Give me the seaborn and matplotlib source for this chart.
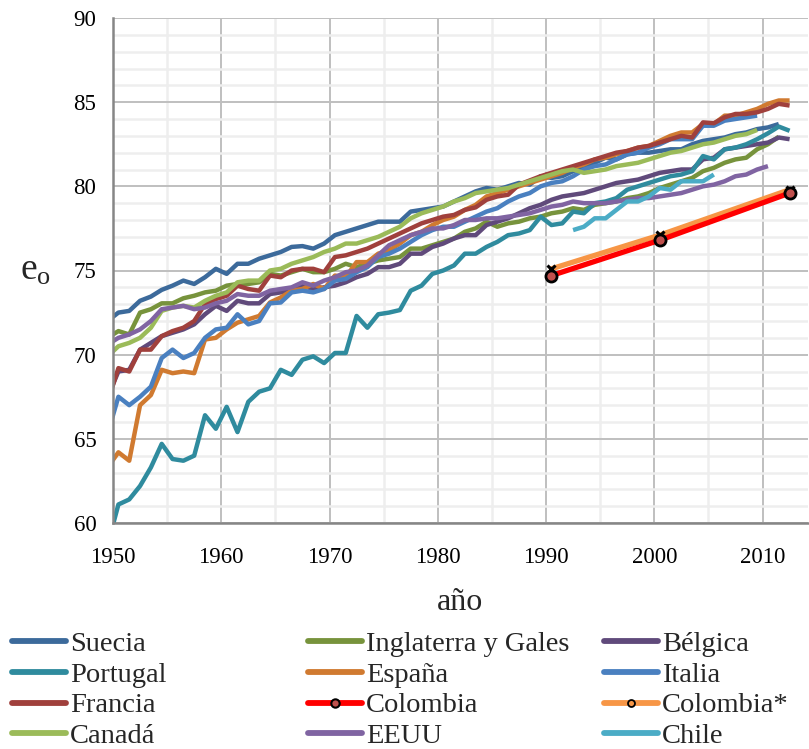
import numpy as np
import pandas as pd
import matplotlib
matplotlib.use("Agg")
import matplotlib.pyplot as plt
import seaborn as sns
from matplotlib.lines import Line2D
from matplotlib.ticker import MultipleLocator

# ---------------- data (female life expectancy at birth, e0) ----------------
# annual series start in 1949 and are drawn at mid-year (year + 0.5)
suecia = [72.0, 72.5, 72.6, 73.2, 73.45, 73.85, 74.1, 74.4, 74.2, 74.6, 75.1, 74.8, 75.4, 75.4, 75.7,
          75.9, 76.1, 76.4, 76.45, 76.3, 76.6, 77.1, 77.3, 77.5, 77.7, 77.9, 77.9, 77.9, 78.5, 78.6,
          78.7, 78.8, 79.1, 79.4, 79.7, 79.9, 79.8, 80.0, 80.2, 80.1, 80.6, 80.5, 80.6, 80.9, 81.1,
          81.4, 81.7, 81.6, 81.9, 82.0, 82.0, 82.1, 82.2, 82.2, 82.5, 82.7, 82.8, 82.9, 83.1, 83.2,
          83.4, 83.5, 83.7]
inglaterra = [71.0, 71.4, 71.2, 72.5, 72.7, 73.05, 73.05, 73.35, 73.5, 73.7, 73.8, 74.1, 74.2, 74.2, 74.3,
              74.8, 74.7, 74.9, 75.1, 74.9, 74.9, 75.1, 75.4, 75.2, 75.4, 75.6, 75.7, 75.8, 76.3, 76.3,
              76.5, 76.7, 76.9, 77.3, 77.5, 77.9, 77.6, 77.8, 77.9, 78.1, 78.2, 78.4, 78.5, 78.7, 78.6,
              78.9, 79.0, 79.1, 79.3, 79.4, 79.6, 79.9, 80.1, 80.3, 80.5, 80.9, 81.1, 81.4, 81.6, 81.7,
              82.2, 82.5, 82.95]
belgica = [67.5, 69.0, 69.1, 70.3, 70.7, 71.1, 71.3, 71.5, 71.8, 72.4, 72.9, 72.6, 73.2, 73.05, 73.05,
           73.6, 73.7, 73.8, 74.1, 73.9, 74.0, 74.1, 74.3, 74.6, 74.8, 75.2, 75.2, 75.4, 76.0, 76.0,
           76.4, 76.6, 76.9, 77.1, 77.1, 77.7, 77.9, 78.1, 78.4, 78.7, 78.9, 79.2, 79.4, 79.5, 79.6,
           79.8, 80.0, 80.2, 80.3, 80.4, 80.6, 80.8, 80.9, 81.0, 81.0, 81.6, 81.7, 82.2, 82.3, 82.4,
           82.5, 82.6, 82.9, 82.8]
portugal = [58.7, 61.1, 61.4, 62.2, 63.3, 64.7, 63.8, 63.7, 64.0, 66.4, 65.6, 66.9, 65.4, 67.2, 67.8,
            68.0, 69.1, 68.8, 69.7, 69.9, 69.5, 70.1, 70.1, 72.3, 71.6, 72.4, 72.5, 72.65, 73.8, 74.1,
            74.8, 75.0, 75.3, 76.0, 76.0, 76.4, 76.7, 77.1, 77.2, 77.4, 78.2, 77.7, 77.8, 78.5, 78.4,
            79.0, 79.1, 79.3, 79.8, 80.0, 80.2, 80.4, 80.6, 80.7, 80.9, 81.8, 81.6, 82.2, 82.3, 82.5,
            82.8, 83.15, 83.55, 83.3]
espana = [63.3, 64.2, 63.7, 67.0, 67.6, 69.1, 68.9, 69.0, 68.9, 70.9, 71.0, 71.5, 71.9, 72.1, 72.3,
          73.1, 73.4, 73.8, 73.9, 74.2, 73.9, 74.7, 74.6, 75.5, 75.5, 76.0, 76.2, 76.6, 77.1, 77.3,
          77.7, 78.0, 78.2, 78.6, 78.9, 79.4, 79.6, 79.8, 80.0, 80.2, 80.4, 80.6, 80.8, 81.1, 81.3,
          81.6, 81.7, 81.9, 82.1, 82.3, 82.4, 82.7, 83.0, 83.2, 83.2, 83.7, 83.7, 84.2, 84.2, 84.4,
          84.6, 84.9, 85.1, 85.1]
italia = [65.3, 67.5, 67.0, 67.5, 68.1, 69.8, 70.3, 69.8, 70.1, 71.0, 71.5, 71.6, 72.4, 71.8, 72.0,
          73.05, 73.1, 73.7, 73.8, 73.7, 73.9, 74.4, 74.5, 74.9, 75.2, 75.8, 76.0, 76.3, 76.7, 77.1,
          77.4, 77.6, 77.6, 77.9, 78.2, 78.5, 78.7, 79.1, 79.4, 79.6, 80.0, 80.2, 80.3, 80.6, 81.0,
          81.2, 81.3, 81.6, 81.9, 82.0, 82.3, 82.5, 82.8, 82.8, 82.8, 83.6, 83.6, 83.9, 84.0, 84.1,
          84.2]
francia = [67.2, 69.2, 69.0, 70.3, 70.3, 71.1, 71.4, 71.6, 72.0, 73.0, 73.3, 73.5, 74.1, 73.9, 73.8,
           74.7, 74.6, 75.0, 75.1, 75.1, 74.9, 75.8, 75.9, 76.1, 76.3, 76.6, 76.9, 77.2, 77.5, 77.8,
           78.0, 78.2, 78.3, 78.6, 78.75, 79.2, 79.4, 79.5, 80.1, 80.35, 80.6, 80.8, 81.0, 81.2, 81.4,
           81.6, 81.8, 82.0, 82.1, 82.3, 82.4, 82.6, 82.8, 83.0, 82.9, 83.8, 83.75, 84.1, 84.3, 84.3,
           84.4, 84.6, 84.9, 84.8]
canada = [69.9, 70.5, 70.7, 71.0, 71.6, 72.6, 72.8, 72.9, 72.8, 73.2, 73.5, 73.7, 74.3, 74.4, 74.4,
          75.0, 75.1, 75.4, 75.6, 75.8, 76.1, 76.3, 76.6, 76.6, 76.8, 77.0, 77.3, 77.6, 78.1, 78.4,
          78.6, 78.8, 79.1, 79.3, 79.6, 79.7, 79.8, 79.9, 80.1, 80.3, 80.5, 80.7, 80.9, 81.0, 80.8,
          80.9, 81.0, 81.2, 81.3, 81.4, 81.6, 81.8, 82.0, 82.1, 82.3, 82.5, 82.6, 82.8, 83.0, 83.1,
          83.35]
eeuu = [70.6, 71.0, 71.2, 71.5, 72.0, 72.7, 72.8, 72.9, 72.7, 72.8, 73.05, 73.2, 73.6, 73.5, 73.5,
        73.8, 73.9, 74.0, 74.3, 74.1, 74.4, 74.6, 74.9, 75.0, 75.3, 75.9, 76.5, 76.8, 77.1, 77.3,
        77.5, 77.5, 77.7, 78.0, 78.0, 78.1, 78.1, 78.2, 78.3, 78.4, 78.6, 78.8, 78.9, 79.1, 79.0,
        79.0, 79.0, 79.1, 79.2, 79.3, 79.3, 79.4, 79.5, 79.6, 79.8, 80.0, 80.1, 80.3, 80.6, 80.7,
        81.0, 81.2]
chile_years = list(range(1992, 2006))
chile = [77.4, 77.6, 78.1, 78.1, 78.6, 79.1, 79.1, 79.4, 79.9, 79.8, 80.3, 80.3, 80.3, 80.7]
colombia_years = [1990, 2000, 2012]
colombia = [74.7, 76.8, 79.6]
colombia_adj = [75.1, 77.1, 79.8]

x_ticks = [1950, 1960, 1970, 1980, 1990, 2000, 2010]
y_ticks = [60, 65, 70, 75, 80, 85, 90]

series = [
    ("Suecia", suecia, "#3C6A9B"),
    ("Inglaterra y Gales", inglaterra, "#77933C"),
    ("Bélgica", belgica, "#604A7B"),
    ("Portugal", portugal, "#2F8B9E"),
    ("España", espana, "#D07A30"),
    ("Italia", italia, "#4A80C0"),
    ("Francia", francia, "#A0403C"),
]
series2 = [
    ("Canadá", canada, "#9BBB59"),
    ("EEUU", eeuu, "#8064A2"),
]
colors = {name: c for name, _, c in series + series2}
colors.update({"Colombia": "#FF0000", "Colombia*": "#F79646", "Chile": "#4BACC6"})

# ---------------- figure ----------------
sns.set_theme(style="white")
plt.rcParams["font.family"] = ["Liberation Serif", "DejaVu Serif"]
plt.rcParams["mathtext.fontset"] = "custom"
plt.rcParams["mathtext.rm"] = "Liberation Serif"
plt.rcParams["mathtext.it"] = "Liberation Serif:italic"

fig = plt.figure(figsize=(8.09, 7.49), dpi=100)
ax = fig.add_axes([113 / 809, 1 - 523 / 749, (808 - 113) / 809, (523 - 18) / 749])

LW = 3.2


def draw(name, vals, start, color, lw=LW, **kw):
    yrs = np.arange(start, start + len(vals)) + 0.5
    df = pd.DataFrame({"x": yrs, "y": vals})
    sns.lineplot(data=df, x="x", y="y", color=color, lw=lw, ax=ax, estimator=None,
                 sort=False, legend=False, solid_joinstyle="round", solid_capstyle="butt", **kw)


for name, vals, c in series:
    draw(name, vals, 1949, c)

# Colombia (orange drawn first, red on top)
cdf = pd.DataFrame({"x": np.array(colombia_years) + 0.5, "y": colombia, "y2": colombia_adj})
sns.lineplot(data=cdf, x="x", y="y2", color=colors["Colombia*"], lw=3.8, ax=ax, estimator=None,
             sort=False, legend=False, marker="x", markersize=6, markeredgewidth=2.2,
             markeredgecolor="black", zorder=3)
sns.lineplot(data=cdf, x="x", y="y", color=colors["Colombia"], lw=3.8, ax=ax, estimator=None,
             sort=False, legend=False, marker="o", markersize=8, markerfacecolor="#C0504D",
             markeredgecolor="black", markeredgewidth=2.0, zorder=3)

for name, vals, c in series2:
    draw(name, vals, 1949, c)
draw("Chile", chile, chile_years[0], colors["Chile"])

# ---------------- axes styling ----------------
ax.set_xlim(1950, 2014.2)
ax.set_ylim(60, 90)
ax.set_xticks(x_ticks)
ax.set_yticks(y_ticks)
ax.xaxis.set_minor_locator(MultipleLocator(5))
ax.yaxis.set_minor_locator(MultipleLocator(1))
ax.set_axisbelow(True)
ax.grid(which="major", color="#BFBFBF", lw=1.4)
ax.grid(which="minor", color="#EEEEEE", lw=1.8)
for s in ["top", "right"]:
    ax.spines[s].set_visible(False)
for s in ["left", "bottom"]:
    ax.spines[s].set_color("#868686")
    ax.spines[s].set_linewidth(1.8)
ax.tick_params(axis="both", which="major", length=6, width=1.6, color="#868686",
               direction="out", labelsize=16.5, labelcolor="black")
ax.tick_params(axis="x", which="major", pad=11)
ax.tick_params(axis="y", which="major", pad=6)
ax.tick_params(which="minor", length=0)

ax.set_xlabel("año", fontsize=23, labelpad=15)
ax.set_ylabel(r"e$_\mathrm{o}$", fontsize=27, rotation=0, va="center", ha="center")
ax.yaxis.set_label_coords(-0.112, 0.5)

# ---------------- legend (three columns) ----------------
def h(name):
    return Line2D([], [], color=colors[name], lw=4.2)

col_defs = [
    (12, [("Suecia", h("Suecia")), ("Portugal", h("Portugal")),
          ("Francia", h("Francia")), ("Canadá", h("Canadá"))]),
    (308, [("Inglaterra y Gales", h("Inglaterra y Gales")), ("España", h("España")),
           ("Colombia", Line2D([], [], color=colors["Colombia"], lw=4.2, marker="o", markersize=6,
                               markerfacecolor="#C0504D", markeredgecolor="black", markeredgewidth=1.5)),
           ("EEUU", h("EEUU"))]),
    (604, [("Bélgica", h("Bélgica")), ("Italia", h("Italia")),
           ("Colombia*", Line2D([], [], color=colors["Colombia*"], lw=4.2, marker="o", markersize=5,
                                markerfacecolor=colors["Colombia*"], markeredgecolor="black",
                                markeredgewidth=1.3)),
           ("Chile", h("Chile"))]),
]
for xpix, items in col_defs:
    leg = fig.legend([it[1] for it in items], [it[0] for it in items],
                     loc="upper left", bbox_to_anchor=(xpix / 809, 1 - 631 / 749),
                     frameon=False, fontsize=20.5, handlelength=1.9, handletextpad=0.15,
                     labelspacing=0.17, borderpad=0, borderaxespad=0)

fig.savefig("out.png", dpi=100)
